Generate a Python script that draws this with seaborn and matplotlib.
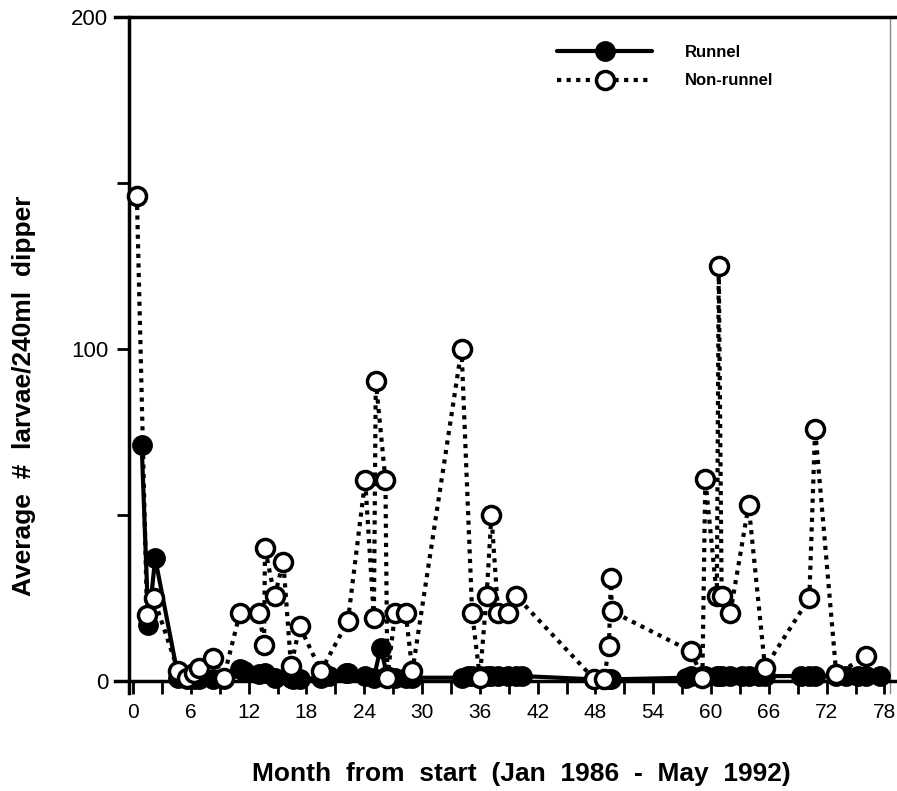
import numpy as np
import pandas as pd
import matplotlib
matplotlib.use("Agg")
import matplotlib.pyplot as plt
from matplotlib.ticker import MultipleLocator
import seaborn as sns

# month from start (Jan 1986) and average larvae per 240 ml dipper
runnel_month = [0.9, 1.6, 2.3, 4.7, 5.6, 6.3, 6.9, 8.3, 9.4, 11.1, 11.5, 13.1, 13.7,
                14.7, 16.4, 16.6, 17.3, 19.5, 20.3, 22.1, 22.3, 24.1, 25.0, 25.7,
                26.4, 27.2, 28.3, 29.0, 34.1, 34.8, 35.2, 36.0, 36.7, 37.2, 37.9,
                38.9, 39.8, 40.4, 47.9, 48.9, 49.4, 49.6, 57.4, 57.9, 59.1, 59.4,
                60.6, 60.8, 61.1, 62.0, 63.2, 63.9, 65.0, 65.6, 69.3, 70.2, 70.8,
                73.0, 74.0, 75.3, 76.1, 77.5]
runnel_larvae = [71, 17, 37, 1, 0.5, 0.5, 0.5, 0.5, 0.5, 3.5, 3, 2, 2.5,
                 1, 1, 0.5, 0.5, 1, 1.5, 2.5, 2.5, 1.5, 1, 10,
                 1.5, 1, 1, 1, 1, 1.5, 1.5, 1.5, 1.5, 1.5, 1.5,
                 1.5, 1.5, 1.5, 0.5, 0.5, 0.5, 0.5, 1, 1.5, 1.5, 1.5,
                 1.5, 1.5, 1.5, 1.5, 1.5, 1.5, 1.5, 1.5, 1.5, 1.5, 1.5,
                 1.5, 1.5, 1.5, 1.5, 1.5]

nonrunnel_month = [0.4, 1.45, 2.15, 4.7, 5.6, 6.3, 6.9, 8.3, 9.4, 11.1, 13.1, 13.6,
                   13.7, 14.7, 15.6, 16.4, 17.3, 19.5, 22.3, 24.1, 25.0, 25.2, 26.2,
                   26.4, 27.2, 28.3, 29.0, 34.1, 35.2, 36.0, 36.7, 37.2, 37.9, 38.9,
                   39.8, 47.9, 48.9, 49.4, 49.6, 49.7, 57.9, 59.1, 59.4, 60.6, 60.8,
                   61.1, 62.0, 63.9, 65.6, 70.2, 70.8, 73.0, 76.1]
nonrunnel_larvae = [146, 20, 25, 3, 1, 2.5, 4, 7, 1, 20.5, 20.5, 11,
                    40, 25.5, 36, 4.5, 16.5, 3, 18, 60.5, 19, 90.5, 60.5,
                    1, 20.5, 20.5, 3, 100, 20.5, 1, 25.5, 50, 20.5, 20.5,
                    25.5, 0.5, 0.5, 10.5, 31, 21, 9, 1, 61, 25.5, 125,
                    25.5, 20.5, 53, 4, 25, 76, 2, 7.5]

x_ticks = list(range(0, 79, 6))
y_ticks = [0, 100, 200]

sns.set_style("ticks")
plt.rcParams['font.family'] = ['Liberation Sans', 'DejaVu Sans']
plt.rcParams['text.color'] = 'black'
plt.rcParams['axes.labelcolor'] = 'black'
plt.rcParams['xtick.color'] = 'black'
plt.rcParams['ytick.color'] = 'black'

fig = plt.figure(figsize=(8.97, 7.91), dpi=100)
ax = fig.add_axes([115 / 897, 98 / 791, 782 / 897, 676 / 791])

sns.lineplot(x=runnel_month, y=runnel_larvae, ax=ax, estimator=None, sort=False,
             color="black", lw=3, marker="o", ms=13, mfc="black", mec="black",
             mew=2, clip_on=False, zorder=3)
sns.lineplot(x=nonrunnel_month, y=nonrunnel_larvae, ax=ax, estimator=None, sort=False,
             color="black", lw=3, linestyle=(0, (1, 1.3)), marker="o", ms=13,
             mfc="white", mec="black", mew=2.5, clip_on=False, zorder=4)

ax.set_xlim(-1.87, 79.3)
ax.set_ylim(-3.6, 200)
ax.set_xticks(x_ticks)
ax.set_yticks(y_ticks)
ax.xaxis.set_minor_locator(MultipleLocator(3))
ax.yaxis.set_minor_locator(MultipleLocator(50))

ax.spines['left'].set_position(('data', -0.4))
ax.spines['bottom'].set_position(('data', 0))
ax.spines['right'].set_position(('data', 78.6))
for s in ['left', 'bottom', 'top']:
    ax.spines[s].set_linewidth(2.5)
    ax.spines[s].set_color('black')
ax.spines['right'].set_linewidth(1)
ax.spines['right'].set_color('#888888')

ax.tick_params(axis='both', which='both', direction='out', length=9, width=2,
               color='black', labelcolor='black', top=False, right=False)
ax.tick_params(axis='x', labelsize=15, pad=7)
ax.tick_params(axis='y', labelsize=16, pad=6)

ax.set_xlabel("Month  from  start  (Jan  1986  -  May  1992)", fontsize=19, fontweight='bold')
ax.set_ylabel("Average  #  larvae/240ml  dipper", fontsize=19, fontweight='bold')
ax.xaxis.set_label_coords(0.52, -0.12)
ax.xaxis.label.set_va('center')
ax.yaxis.set_label_coords(-0.117, 0.44)
ax.yaxis.label.set_va('center')

handles = ax.get_lines()[:2]
leg = ax.legend(handles, ["Runnel", "Non-runnel"], loc='upper left',
                bbox_to_anchor=(557 / 897, 1 - 45 / 791), bbox_transform=fig.transFigure,
                frameon=False, handlelength=5.7, handletextpad=2.0, labelspacing=0.8,
                borderpad=0, borderaxespad=0, prop={'weight': 'bold', 'size': 12})

fig.savefig("out.png", dpi=100)
